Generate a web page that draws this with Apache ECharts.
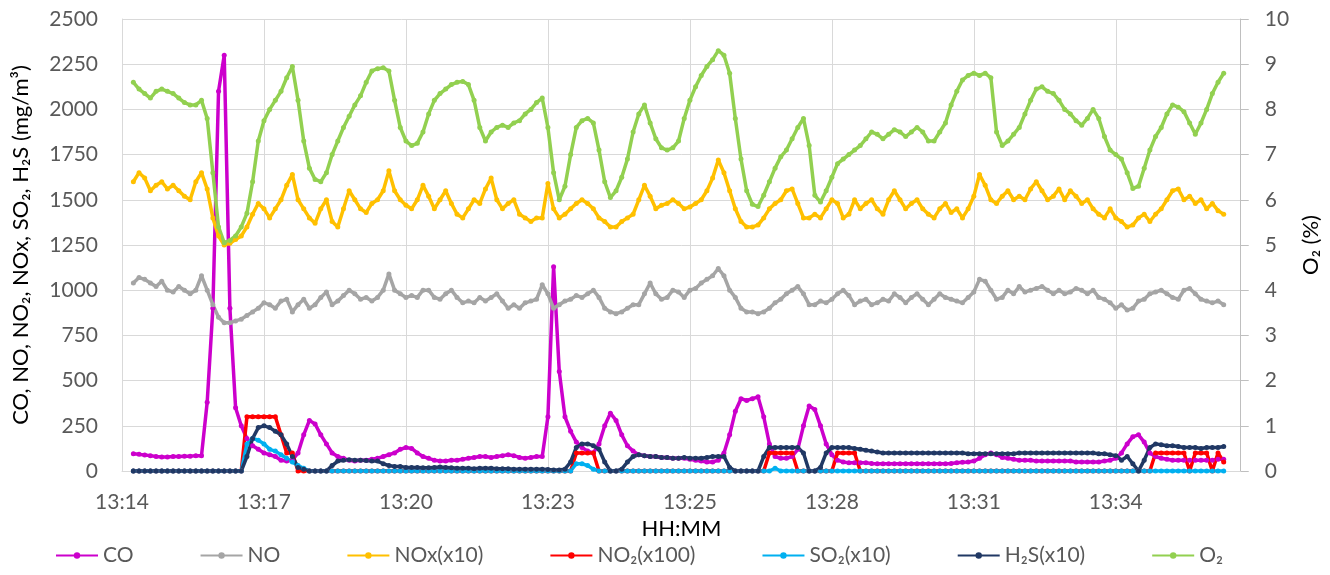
<!DOCTYPE html>
<html>
<head>
<meta charset="utf-8">
<script src="https://cdn.jsdelivr.net/npm/echarts@6/dist/echarts.min.js"></script>
<style>
html,body{margin:0;padding:0;background:#fff;}
#chart{width:1330px;height:575px;}
</style>
</head>
<body>
<div id="chart"></div>
<script>
// Tick labels of the time axis (one every 25 samples)
const tickLabels = ['13:14','13:17','13:20','13:23','13:25','13:28','13:31','13:34'];
const firstSample = 2;   // sample index of the first reading
const lastSlot = 197;    // axis end (sample slots)

const co = [
95,92,88,85,80,78,78,80,80,82,
82,85,85,380,900,2100,2300,900,350,250,
180,140,120,100,90,80,60,55,60,100,
200,280,260,200,150,100,80,70,60,55,
60,60,65,70,80,90,100,120,130,125,
100,80,70,60,55,55,60,60,65,70,
75,80,80,75,80,85,90,85,75,70,
75,80,80,300,1130,550,300,220,160,130,
110,100,150,250,320,280,200,140,110,90,
85,80,80,75,75,70,70,70,65,60,
55,50,50,60,100,200,330,400,390,400,
410,300,150,80,70,70,80,120,250,360,
340,250,150,90,60,50,45,45,45,45,
42,40,40,40,40,40,40,40,40,40,
40,40,40,40,42,45,48,50,55,70,
90,100,90,75,70,65,60,60,60,55,
55,55,55,55,55,55,50,50,50,50,
50,55,60,70,100,150,190,200,160,100,
80,70,65,60,60,60,60,60,60,60,
60,65,65];

const no = [
1040,1070,1060,1040,1020,1050,1000,990,1020,1000,
980,1000,1080,1000,920,850,820,820,830,840,
860,880,900,930,920,900,940,950,880,920,
950,900,920,960,990,920,940,970,1000,980,
950,960,940,960,1000,1090,1000,980,960,970,
960,1000,1000,960,950,980,1000,960,930,940,
930,960,940,960,980,940,900,920,900,930,
940,950,1030,980,900,920,940,950,970,960,
980,1000,960,900,880,870,880,900,920,920,
980,1040,980,950,960,1000,990,960,1000,1010,
1040,1060,1080,1120,1080,1000,960,900,880,880,
870,880,900,930,950,980,1000,1020,980,920,
920,940,930,950,980,1000,970,920,940,950,
920,930,950,940,980,960,930,960,980,950,
920,950,980,960,950,940,930,960,990,1060,
1050,1000,950,960,1000,980,1020,990,1000,1010,
1020,1000,980,1000,980,990,1010,1000,980,1000,
960,950,930,900,920,890,900,940,950,980,
990,1000,980,960,950,1000,1010,980,950,940,
930,940,920];

const nox = [
1600,1650,1620,1550,1580,1600,1560,1580,1550,1520,
1500,1600,1650,1560,1400,1300,1250,1260,1280,1300,
1350,1420,1480,1450,1400,1450,1500,1580,1640,1500,
1450,1400,1370,1450,1500,1380,1350,1450,1550,1500,
1450,1430,1480,1500,1550,1660,1550,1500,1470,1450,
1500,1580,1520,1450,1500,1550,1480,1420,1400,1450,
1500,1480,1560,1620,1500,1450,1480,1500,1420,1400,
1380,1400,1400,1590,1450,1400,1420,1450,1480,1500,
1480,1450,1400,1380,1350,1350,1380,1400,1420,1500,
1580,1520,1450,1470,1480,1500,1480,1450,1460,1480,
1500,1550,1620,1720,1650,1550,1450,1380,1350,1350,
1360,1400,1450,1480,1500,1550,1560,1480,1400,1400,
1420,1400,1450,1500,1480,1400,1420,1500,1450,1480,
1500,1450,1420,1500,1550,1500,1450,1480,1500,1450,
1420,1400,1450,1480,1430,1450,1400,1450,1520,1640,
1580,1500,1480,1520,1550,1500,1520,1500,1560,1600,
1550,1500,1520,1560,1500,1550,1520,1480,1500,1450,
1420,1400,1450,1400,1380,1350,1360,1400,1420,1380,
1420,1450,1500,1550,1560,1500,1520,1480,1500,1450,
1480,1440,1420];

const no2 = [
0,0,0,0,0,0,0,0,0,0,
0,0,0,0,0,0,0,0,0,0,
300,300,300,300,300,300,200,100,100,0,
0,0,0,0,0,0,0,0,0,0,
0,0,0,0,0,0,0,0,0,0,
0,0,0,0,0,0,0,0,0,0,
0,0,0,0,0,0,0,0,0,0,
0,0,0,0,0,0,0,0,100,100,
100,100,0,0,0,0,0,0,0,0,
0,0,0,0,0,0,0,0,0,0,
0,0,0,0,0,0,0,0,0,0,
0,0,100,100,100,100,100,0,0,0,
0,0,0,0,100,100,100,100,0,0,
0,0,0,0,0,0,0,0,0,0,
0,0,0,0,0,0,0,0,0,0,
0,0,0,0,0,0,0,0,0,0,
0,0,0,0,0,0,0,0,0,0,
0,0,0,0,0,0,0,0,0,0,
100,100,100,100,100,100,0,100,100,100,
0,100,50];

const so2 = [
0,0,0,0,0,0,0,0,0,0,
0,0,0,0,0,0,0,0,0,0,
150,180,170,150,120,110,90,70,50,30,
15,0,0,0,0,0,0,0,0,0,
0,0,0,0,0,0,0,0,0,0,
0,0,0,0,0,0,0,0,0,0,
0,0,0,0,0,0,0,0,0,0,
0,0,0,0,0,0,0,0,40,40,
30,10,0,0,0,0,0,0,0,0,
0,0,0,0,0,0,0,0,0,0,
0,0,0,0,0,0,0,0,0,0,
0,0,0,15,0,0,0,0,0,0,
0,0,0,0,0,0,0,0,0,0,
0,0,0,0,0,0,0,0,0,0,
0,0,0,0,0,0,0,0,0,0,
0,0,0,0,0,0,0,0,0,0,
0,0,0,0,0,0,0,0,0,0,
0,0,0,0,0,0,0,0,0,0,
0,0,0,0,0,0,0,0,0,0,
0,0,0];

const h2s = [
0,0,0,0,0,0,0,0,0,0,
0,0,0,0,0,0,0,0,0,0,
80,180,240,250,240,220,200,150,80,20,
10,0,0,0,0,30,55,60,62,60,
60,58,55,55,40,30,25,25,20,20,
20,18,18,20,22,20,18,15,15,15,
12,15,15,15,12,12,12,10,10,10,
10,10,10,8,5,5,10,50,130,150,
150,140,120,50,0,0,10,50,80,90,
85,80,80,75,75,70,70,75,70,70,
70,75,80,80,80,20,0,0,0,0,
0,80,130,130,130,130,130,130,100,0,
0,20,100,130,130,130,130,125,120,115,
110,105,100,100,100,100,100,100,100,100,
100,100,100,100,100,100,100,95,95,95,
95,95,95,95,95,95,100,100,100,100,
100,100,100,100,100,100,100,100,100,100,
95,95,90,85,60,80,40,0,60,130,
150,145,140,140,135,130,130,130,125,130,
130,130,135];

const o2 = [
8.6,8.45,8.35,8.25,8.4,8.45,8.4,8.35,8.25,8.15,
8.1,8.1,8.2,7.8,6.6,5.4,5.05,5.1,5.2,5.4,
5.7,6.4,7.3,7.75,8.0,8.2,8.4,8.7,8.95,8.2,
7.3,6.7,6.45,6.4,6.6,7.0,7.3,7.6,7.85,8.1,
8.3,8.6,8.85,8.9,8.92,8.85,8.2,7.6,7.3,7.2,
7.25,7.5,7.9,8.2,8.35,8.45,8.55,8.6,8.62,8.55,
8.2,7.6,7.3,7.5,7.6,7.65,7.6,7.7,7.75,7.9,
8.0,8.15,8.25,7.6,6.6,6.0,6.3,7.0,7.6,7.75,
7.8,7.7,7.1,6.4,6.05,6.2,6.5,6.9,7.5,7.9,
8.1,7.7,7.35,7.15,7.1,7.15,7.3,7.8,8.2,8.5,
8.75,8.95,9.1,9.3,9.2,8.8,7.8,6.9,6.2,5.9,
5.85,6.1,6.4,6.7,6.95,7.1,7.35,7.6,7.8,7.2,
6.1,5.95,6.2,6.5,6.8,6.9,7.0,7.1,7.2,7.35,
7.5,7.45,7.35,7.45,7.55,7.5,7.4,7.5,7.6,7.5,
7.3,7.3,7.5,7.7,8.1,8.4,8.65,8.75,8.8,8.75,
8.8,8.7,7.5,7.2,7.3,7.45,7.6,7.9,8.2,8.45,
8.5,8.4,8.35,8.2,8.0,7.9,7.75,7.65,7.8,8.0,
7.8,7.4,7.1,7.0,6.9,6.6,6.25,6.3,6.7,7.1,
7.4,7.6,7.9,8.1,8.05,7.95,7.7,7.45,7.7,8.0,
8.35,8.6,8.8];

const seriesDefs = [
  {name:'CO', data:co, color:'#CC00CC', y:0},
  {name:'NO', data:no, color:'#A5A5A5', y:0},
  {name:'NOx(x10)', data:nox, color:'#FFC000', y:0},
  {name:'NO\u2082(x100)', data:no2, color:'#FF0000', y:0},
  {name:'SO\u2082(x10)', data:so2, color:'#00B0F0', y:0},
  {name:'H\u2082S(x10)', data:h2s, color:'#203864', y:0},
  {name:'O\u2082', data:o2, color:'#92D050', y:1}
];

const FONT = 'Lato';
const chart = echarts.init(document.getElementById('chart'), null, {renderer:'canvas'});
chart.setOption({
  animation:false,
  textStyle:{fontFamily:FONT},
  grid:{left:122, right:86, top:19, bottom:104, containLabel:false},
  legend:{
    bottom:4, left:50, itemWidth:42, itemHeight:8, itemGap:66,
    textStyle:{fontFamily:FONT, fontSize:21, color:'#595959'},
    data: seriesDefs.map(s=>s.name)
  },
  xAxis:{
    type:'value', min:0, max:lastSlot, interval:25,
    name:'HH:MM', nameLocation:'middle', nameGap:47,
    nameTextStyle:{fontFamily:FONT, fontSize:22, color:'#000'},
    axisLine:{show:true, lineStyle:{color:'#D9D9D9', width:1}},
    axisTick:{show:false},
    axisLabel:{margin:21, fontFamily:FONT, fontSize:21, color:'#595959',
      formatter:v=>{const k=v/25; return Number.isInteger(k)&&tickLabels[k]?tickLabels[k]:'';}},
    splitLine:{show:true, lineStyle:{color:'#D9D9D9', width:1}}
  },
  yAxis:[
    {type:'value', min:0, max:2500, interval:250,
     name:'CO, NO, NO\u2082, NOx, SO\u2082, H\u2082S (mg/m\u00B3)', nameLocation:'middle', nameGap:90,
     nameTextStyle:{fontFamily:FONT, fontSize:22, color:'#000'},
     axisLine:{show:true, lineStyle:{color:'#D9D9D9'}},
     axisTick:{show:false},
     axisLabel:{margin:24, fontFamily:FONT, fontSize:21, color:'#595959', formatter:v=>String(v)},
     splitLine:{show:true, lineStyle:{color:'#D9D9D9', width:1}}},
    {type:'value', min:0, max:10, interval:1, position:'right',
     name:'O\u2082 (%)', nameLocation:'middle', nameGap:54, nameRotate:90,
     nameTextStyle:{fontFamily:FONT, fontSize:22, color:'#000'},
     axisLine:{show:true, lineStyle:{color:'#BFBFBF'}},
     axisTick:{show:true, length:8, lineStyle:{color:'#BFBFBF'}},
     axisLabel:{margin:24, fontFamily:FONT, fontSize:21, color:'#595959', formatter:v=>String(v)},
     splitLine:{show:false}}
  ],
  series: seriesDefs.map(s=>({
    name:s.name, type:'line', yAxisIndex:s.y,
    data:s.data.map((v,k)=>[firstSample+k, v]),
    symbol:'circle', symbolSize:5, showSymbol:true, showAllSymbol:true,
    lineStyle:{color:s.color, width:3.5},
    itemStyle:{color:s.color},
    emphasis:{disabled:true}
  }))
});
</script>
</body>
</html>
